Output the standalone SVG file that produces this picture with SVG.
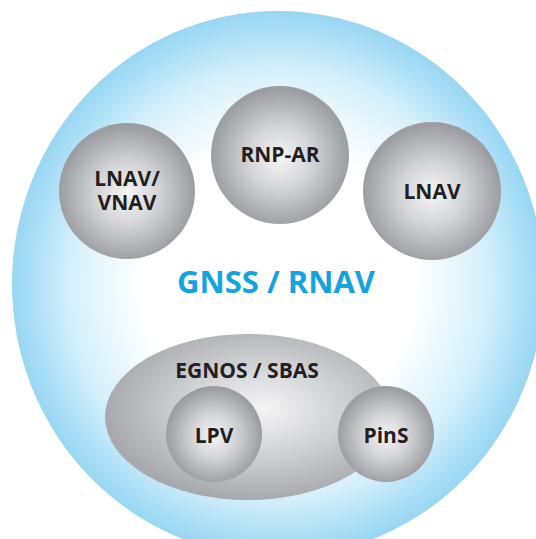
<svg xmlns="http://www.w3.org/2000/svg" width="536" height="539" viewBox="0 0 536 539">
<style>
.lbl{font-family:"Open Sans","Liberation Sans",Arial,sans-serif;font-weight:700;font-size:21px;fill:#231f20;text-anchor:middle}
.big{font-family:"Open Sans","Liberation Sans",Arial,sans-serif;font-weight:700;font-size:31px;fill:#12a3e0;text-anchor:middle}
</style>
<defs>
<radialGradient id="blue" cx="0.5" cy="0.5" r="0.5">
<stop offset="0" stop-color="#ffffff"/>
<stop offset="0.52" stop-color="#ffffff"/>
<stop offset="0.78" stop-color="#d6f0fb"/>
<stop offset="1" stop-color="#97d6f3"/>
</radialGradient>
<radialGradient id="gray" cx="0.5" cy="0.52" r="0.5">
<stop offset="0" stop-color="#f5f5f6"/>
<stop offset="0.45" stop-color="#d4d5d7"/>
<stop offset="1" stop-color="#9c9da1"/>
</radialGradient>
<radialGradient id="grayE" cx="0.55" cy="0.45" r="0.55">
<stop offset="0" stop-color="#f5f5f6"/>
<stop offset="0.5" stop-color="#d0d1d3"/>
<stop offset="1" stop-color="#a8a9ac"/>
</radialGradient>
</defs>
<g id="gnss-rnav">
<ellipse cx="278" cy="284" rx="266" ry="273" fill="url(#blue)"/>
<text class="big" x="276" y="293">GNSS / RNAV</text>
</g>
<g id="lnav-vnav">
<circle cx="127" cy="191" r="68" fill="url(#gray)"/>
<text class="lbl" x="127" y="186">LNAV/</text>
<text class="lbl" x="127" y="210">VNAV</text>
</g>
<g id="rnp-ar">
<circle cx="280" cy="155" r="69" fill="url(#gray)"/>
<text class="lbl" x="280" y="162">RNP-AR</text>
</g>
<g id="lnav">
<circle cx="432" cy="191" r="69" fill="url(#gray)"/>
<text class="lbl" x="432" y="199">LNAV</text>
</g>
<g id="egnos-sbas">
<ellipse cx="248" cy="417" rx="143" ry="83" fill="url(#grayE)"/>
<text class="lbl" x="247" y="378">EGNOS / SBAS</text>
</g>
<g id="lpv">
<circle cx="214" cy="434" r="48" fill="url(#gray)"/>
<text class="lbl" x="214" y="443">LPV</text>
</g>
<g id="pins">
<circle cx="386" cy="434" r="48" fill="url(#gray)"/>
<text class="lbl" x="386" y="443">PinS</text>
</g>
<g id="connectors"/>
</svg>
